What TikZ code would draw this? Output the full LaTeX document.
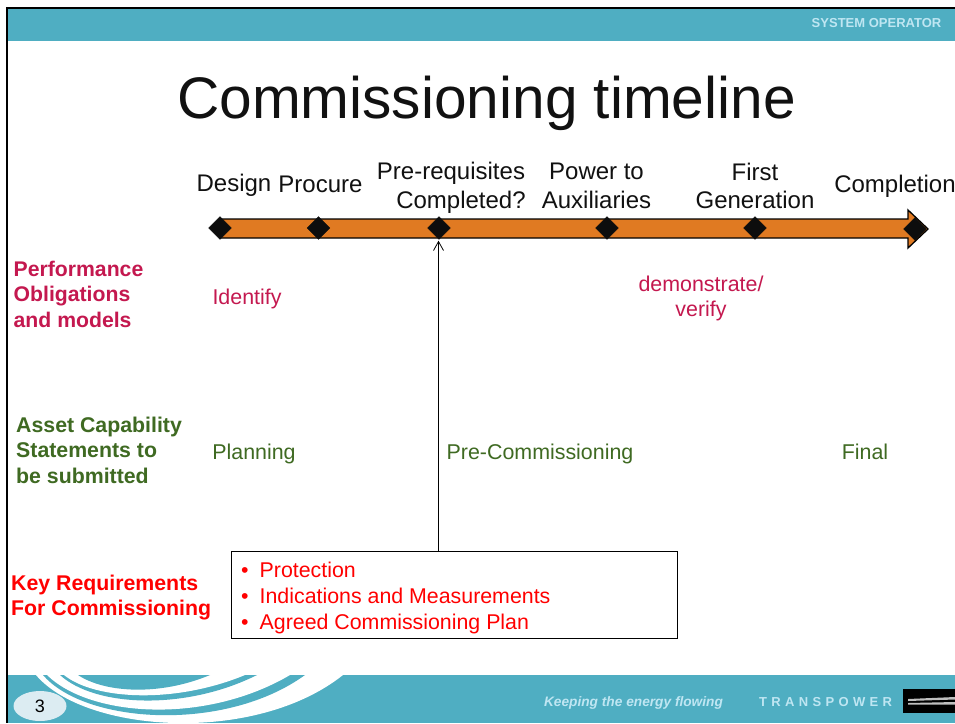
\documentclass[tikz,border=0pt]{standalone}
\usepackage{fontspec}
\setmainfont{Liberation Sans}
\usetikzlibrary{shapes.geometric,arrows.meta}
\definecolor{bandteal}{HTML}{4FAEC2}
\definecolor{barorange}{HTML}{E07A22}
\definecolor{perfred}{HTML}{C4184F}
\definecolor{assetgreen}{HTML}{3F6A22}
\definecolor{keyred}{HTML}{FF0000}
\definecolor{titleink}{HTML}{111111}
\definecolor{softblue}{HTML}{BFE6F2}
\definecolor{pagepill}{HTML}{DCECF2}
\tikzset{
  x=1pt,y=-1pt,
  inner sep=0pt,
  ms/.style={diamond,fill=black!95,draw=black!95,minimum width=23pt,minimum height=23pt,inner sep=0pt},
  stagelabel/.style={font=\fontsize{24}{28.5}\selectfont,align=center,text=titleink},
  rowhead/.style={font=\fontsize{21.2}{25.5}\selectfont\bfseries,align=left,anchor=west},
  rowtext/.style={font=\fontsize{21.4}{25.2}\selectfont,align=center},
}
\begin{document}
\begin{tikzpicture}
\useasboundingbox (0,0) rectangle (955,723);
\fill[white] (0,0) rectangle (955,723);
% bands
\fill[bandteal] (8,9) rectangle (955,41);
\fill[bandteal] (8,675) rectangle (955,723);
% swoosh
\fill[white] (36,675) .. controls (85,733) and (255,745) .. (343,675) -- cycle;
\fill[bandteal] (43,675) .. controls (85,724) and (225,733) .. (305,675) -- cycle;
\fill[white] (47,675) .. controls (90,717) and (205,725) .. (290,675) -- cycle;
\fill[bandteal] (60,675) .. controls (95,707) and (185,711) .. (257,675) -- cycle;
\fill[white] (64,675) .. controls (95,700) and (175,704) .. (245,675) -- cycle;
\fill[bandteal] (78,675) .. controls (105,693) and (160,696) .. (210,675) -- cycle;
% borders
\fill[black] (6,7) rectangle (955,9);
\fill[black] (6,7) rectangle (8,723);
% header and footer text
\node[text=softblue,font=\fontsize{13}{15}\selectfont\bfseries] (sysop) at (876.5,23.5) {SYSTEM OPERATOR};
\node[text=softblue,font=\fontsize{13.7}{15}\selectfont\bfseries\itshape] (slogan) at (633.5,702.5) {Keeping the energy flowing};
\node[text=softblue,font=\fontsize{13}{14}\selectfont\bfseries,anchor=west] (tp) at (759,702) {T\,\,R\,\,A\,\,N\,\,S\,\,P\,\,O\,\,W\,\,E\,\,R};
\fill[black] (903,689) rectangle (955,713);
\fill[black!25] (908,699) -- (955,697) -- (955,699.5) -- (908,701) -- cycle;
\fill[black!25] (908,703) -- (955,702) -- (955,704.5) -- (908,704.5) -- cycle;
\node[ellipse,fill=pagepill,minimum width=53pt,minimum height=30pt,font=\fontsize{18}{20}\selectfont,text=black] (pagenum) at (40,706) {3};
% title
\node[font=\fontsize{58.6}{66}\selectfont,text=titleink] (title) at (486.5,103) {Commissioning timeline};
% timeline arrow
\draw[fill=barorange,draw=black,line width=1.3pt,line join=miter] (220,219) -- (908,219) -- (908,210) -- (928,229) -- (908,248) -- (908,238) -- (220,238) -- cycle;
\node[ms] (d1) at (220,228) {};
\node[ms] (d2) at (318.5,228) {};
\node[ms] (d3) at (439,228) {};
\node[ms] (d4) at (607,228) {};
\node[ms] (d5) at (755,228) {};
\node[ms] (d6) at (915,229) {};
% stage labels
\node[stagelabel] (l1) at (234,185) {Design};
\node[stagelabel] (l2) at (320.5,184) {Procure};
\node[stagelabel] (l3) at (451,188) {Pre-requisites\\\ \ \ Completed?};
\node[stagelabel] (l4) at (596.5,186) {Power to\\Auxiliaries};
\node[stagelabel] (l5) at (755,186) {First\\Generation};
\node[stagelabel] (l6) at (895,186) {Completion};
% rows
\node[rowhead,text=perfred] (h1) at (13.5,294) {Performance\\Obligations\\and models};
\node[rowhead,text=assetgreen,font=\fontsize{21.3}{25.5}\selectfont\bfseries] (h2) at (16,450) {Asset Capability\\Statements to\\be submitted};
\node[rowhead,text=keyred,font=\fontsize{21.3}{25}\selectfont\bfseries] (h3) at (11,597.5) {Key Requirements\\For Commissioning};
\node[rowtext,text=perfred] (t1) at (247,299) {Identify};
\node[rowtext,text=perfred] (t2) at (701,298.5) {demonstrate/\\verify};
\node[rowtext,text=assetgreen] (t3) at (254,454) {Planning};
\node[rowtext,text=assetgreen] (t4) at (540,454) {Pre-Commissioning};
\node[rowtext,text=assetgreen] (t5) at (865,452) {Final};
% key requirements box
\node[draw=black,line width=0.8pt,fill=white,minimum width=446pt,minimum height=87pt,anchor=north west] (box) at (231,551) {};
\node[anchor=west,text=keyred,font=\fontsize{21.35}{25.7}\selectfont,align=left] (items) at (241,598)
 {\textbullet\hspace{11pt}Protection\\\textbullet\hspace{11pt}Indications and Measurements\\\textbullet\hspace{11pt}Agreed Commissioning Plan};
% connector
\coordinate (boxtop) at ([xshift=-0.5pt]box.north -| d3);
\coordinate (tiptop) at ([yshift=-1pt]d3.south -| boxtop);
\draw[-{Straight Barb[length=9pt,width=10pt]},line width=0.8pt,black] (boxtop) -- (tiptop);
\end{tikzpicture}
\end{document}
